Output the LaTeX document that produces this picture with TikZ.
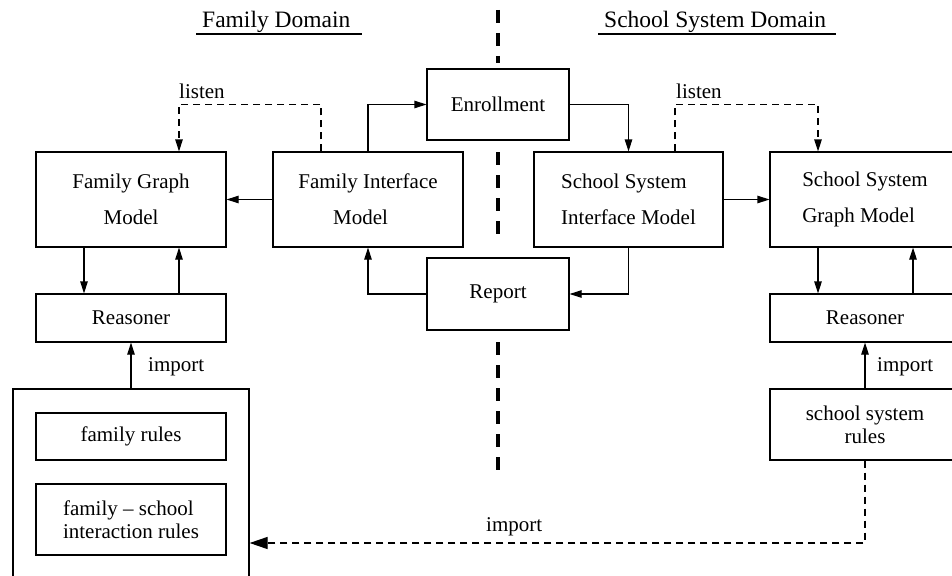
\documentclass[tikz,border=0pt]{standalone}
\usepackage{fontspec}
\setmainfont{Liberation Serif}
\usetikzlibrary{arrows.meta,calc}

\tikzset{
  box/.style={draw, line width=1.2pt, inner sep=0pt, align=center,
    font=\fontsize{21}{36}\selectfont},
  rulebox/.style={box, font=\fontsize{21}{23}\selectfont},
  lbl/.style={inner sep=0pt, font=\fontsize{21}{25}\selectfont},
  title/.style={inner sep=0pt, font=\fontsize{23.5}{28}\selectfont},
  arr/.style={line width=1.2pt, -{Triangle[length=12pt,width=7.5pt]}},
  dasharr/.style={arr, dash pattern=on 7pt off 5pt},
  bigdasharr/.style={line width=1.2pt, dash pattern=on 7pt off 5pt,
    -{Triangle[length=18pt,width=12pt]}},
  divider/.style={line width=4pt, dash pattern=on 13pt off 10pt}
}

\begin{document}
\begin{tikzpicture}[x=1pt, y=-1pt]
  \useasboundingbox (0,0) rectangle (952,575);
  \fill[white] (0,0) rectangle (952,575);
  \clip (0,0) rectangle (952,575);

  % domain headings
  \node[title, anchor=base west] (famtitle) at (202,28) {Family Domain};
  \draw[line width=1.8pt] (196,34) -- (362,34);
  \node[title, anchor=base west] (schtitle) at (604,28) {School System Domain};
  \draw[line width=1.8pt] (598,34) -- (836,34);

  % domain boundary
  \draw[divider] (498,10) -- (498,63);
  \draw[divider] (498,152) -- (498,236);
  \draw[divider] (498,342) -- (498,473);

  % exchange boxes
  \node[box, minimum width=142pt, minimum height=71pt] (enr) at (498,104.5) {Enrollment};
  \node[box, minimum width=142pt, minimum height=72pt] (rep) at (498,294) {Report};

  % models
  \node[box, minimum width=190pt, minimum height=95pt] (fgm) at (131,199.5) {Family Graph\\Model};
  \node[box, minimum width=190pt, minimum height=95pt] (fim) at (368,199.5) {Family Interface\\\hspace*{-15pt}Model};
  \node[box, align=left, minimum width=189pt, minimum height=95pt] (ssim) at (628.5,199.5) {School System\\Interface Model};
  \node[box, align=left, minimum width=190pt, minimum height=95pt] (ssgm) at (865,199.5) {School System\\Graph Model};

  % reasoners
  \node[box, minimum width=190pt, minimum height=48pt] (rl) at (131,318) {Reasoner};
  \node[box, minimum width=190pt, minimum height=48pt] (rr) at (865,318) {Reasoner};

  % rule sets
  \node[box, minimum width=236pt, minimum height=231pt] (outer) at (131,504.5) {};
  \node[rulebox, minimum width=190pt, minimum height=47pt] (fr) at (131,436.5) {family rules};
  \node[rulebox, align=left, minimum width=190pt, minimum height=71pt] (fsi) at (131,519.5) {family -- school\\interaction rules};
  \node[rulebox, minimum width=190pt, minimum height=71pt] (ssr) at (865,424.5) {school system\\rules};

  % exchange flow
  \draw[arr] (fim.north) |- (enr.west);
  \draw[arr] (enr.east) -| (ssim.north);
  \draw[arr] (ssim.south) |- (rep.east);
  \draw[arr] (rep.west) -| (fim.south);
  \draw[arr] (fim.west) -- (fgm.east);
  \draw[arr] (ssim.east) -- (ssgm.west);

  % listeners
  \draw[dasharr] ([xshift=-47pt]fim.north) -- ++(0,-47) -| ([xshift=48pt]fgm.north);
  \node[lbl, anchor=base west] (lsnl) at (179,99) {listen};
  \draw[dasharr] ([xshift=46.5pt]ssim.north) -- ++(0,-47) -| ([xshift=-47pt]ssgm.north);
  \node[lbl, anchor=base west] (lsnr) at (676,99) {listen};

  % model <-> reasoner
  \draw[arr] ([xshift=-47pt]fgm.south) -- ([xshift=-47pt]rl.north);
  \draw[arr] ([xshift=48pt]rl.north) -- ([xshift=48pt]fgm.south);
  \draw[arr] ([xshift=-47pt]ssgm.south) -- ([xshift=-47pt]rr.north);
  \draw[arr] ([xshift=48pt]rr.north) -- ([xshift=48pt]ssgm.south);

  % rule imports
  \draw[arr] (outer.north) -- (rl.south);
  \node[lbl, anchor=base west] (impl) at (148,371) {import};
  \draw[arr] (ssr.north) -- (rr.south);
  \node[lbl, anchor=base west] (impr) at (877,371) {import};
  \draw[bigdasharr] (ssr.south) |- ([yshift=-38.5pt]outer.east);
  \node[lbl, anchor=base west] (impb) at (486,531) {import};
\end{tikzpicture}
\end{document}
